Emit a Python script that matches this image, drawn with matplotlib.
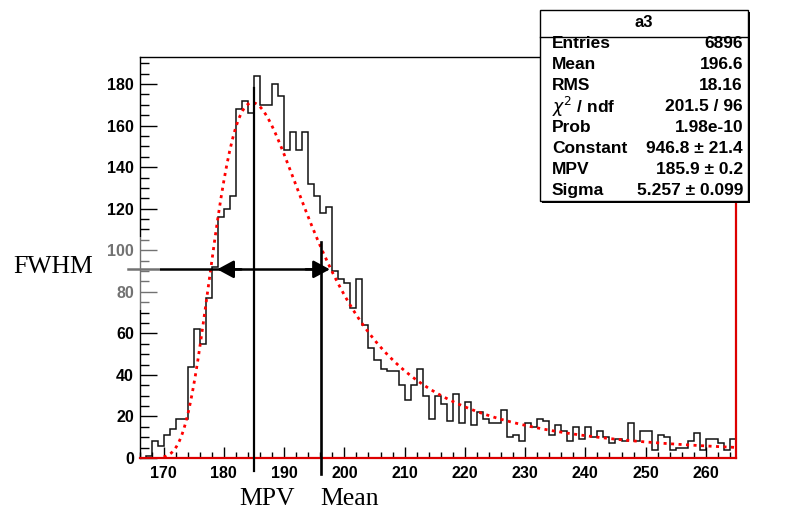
import numpy as np
import matplotlib
matplotlib.use("Agg")
import matplotlib.pyplot as plt
from matplotlib.patches import Rectangle
from matplotlib.ticker import MultipleLocator

# histogram a3: 1-unit bins from 166 to 265
first_edge = 166
counts = [0, 1, 8, 6, 11, 14, 19, 19, 44, 62,
          55, 77, 92, 116, 120, 126, 168, 172, 166, 184,
          170, 170, 180, 174, 148, 157, 148, 157, 132, 126,
          118, 121, 90, 86, 84, 72, 86, 64, 53, 47,
          43, 42, 42, 35, 28, 35, 43, 30, 19, 30,
          26, 18, 31, 17, 27, 16, 22, 19, 17, 17,
          23, 10, 11, 8, 17, 15, 19, 18, 11, 16,
          13, 8, 15, 9, 15, 10, 13, 10, 7, 9,
          8, 17, 8, 13, 13, 4, 11, 10, 4, 5,
          5, 8, 12, 4, 9, 9, 7, 4, 9]

# Landau fit parameters (from the stats box)
fit_const = 946.8
fit_mpv = 185.9
fit_sigma = 5.257
fit_range = (170, 265)

stat_labels = ["Entries", "Mean", "RMS", r"$\chi^{2}$ / ndf", "Prob", "Constant", "MPV", "Sigma"]
stat_values = ["6896", "196.6", "18.16", "201.5 / 96", "1.98e-10",
               "946.8 \u00b1 21.4", "185.9 \u00b1 0.2", "5.257 \u00b1 0.099"]

# hand drawn annotations
mpv_line_x = 185.0
mpv_line_top = 178
mean_line_x = 196.05
mean_line_top = 104
fwhm_level = 90.8
fwhm_left_tip = 178.9
fwhm_right_tip = 197.6

W, H = 791, 513


def fx(px):
    return px / W


def fy(py):
    return 1 - py / H


def landau(lam):
    # Landau density, integral form
    t = np.linspace(0.0, 60.0, 60001)
    dt = t[1] - t[0]
    tlogt = np.zeros_like(t)
    tlogt[1:] = t[1:] * np.log(t[1:])
    w = np.ones_like(t)
    w[1:-1:2] = 4
    w[2:-1:2] = 2
    w *= dt / 3
    out = []
    for l in lam:
        f = np.exp(-tlogt - l * t) * np.sin(np.pi * t)
        out.append(np.dot(w, f))
    return np.array(out) / np.pi


edges = np.arange(first_edge, first_edge + len(counts) + 1)

fig = plt.figure(figsize=(W / 100, H / 100), dpi=100)
ax = fig.add_axes([fx(139.5), fy(458), fx(736) - fx(139.5), fy(57) - fy(458)])

ax.stairs(counts, edges, color="#111111", lw=1.1)

xf = np.linspace(fit_range[0], fit_range[1], 400)
yf = fit_const * landau((xf - fit_mpv) / fit_sigma)
ax.plot(xf, yf, color="#ff0000", lw=2.0, ls=(0, (1.1, 1.6)))

ax.set_xlim(166, 265)
ax.set_ylim(0, 193)

ax.xaxis.set_major_locator(MultipleLocator(10))
ax.xaxis.set_minor_locator(MultipleLocator(2))
ax.yaxis.set_major_locator(MultipleLocator(20))
ax.yaxis.set_minor_locator(MultipleLocator(5))
ax.tick_params(axis="x", which="major", direction="in", length=8, width=1, pad=6)
ax.tick_params(axis="x", which="minor", direction="in", length=4.5, width=1)
ax.tick_params(axis="y", which="major", direction="in", length=12, width=1, pad=4)
ax.tick_params(axis="y", which="minor", direction="in", length=6.5, width=1)
for lab in ax.get_xticklabels() + ax.get_yticklabels():
    lab.set_fontfamily("Liberation Sans")
    lab.set_fontweight("bold")
    lab.set_fontsize(11.5)

ax.spines["bottom"].set_color("#dd0000")
ax.spines["bottom"].set_linewidth(1.6)
ax.spines["right"].set_color("#dd0000")
ax.spines["right"].set_linewidth(1.6)
ax.spines["left"].set_linewidth(1.0)
ax.spines["top"].set_linewidth(1.0)

# MPV / Mean markers
ax.plot([mpv_line_x, mpv_line_x], [-6.3, mpv_line_top], color="black", lw=1.6,
        clip_on=False, zorder=5)
ax.plot([mean_line_x, mean_line_x], [-7.5, mean_line_top], color="black", lw=1.9,
        clip_on=False, zorder=5)

# FWHM double arrow
ax.plot([164.1, fwhm_right_tip - 1], [fwhm_level, fwhm_level], color="black", lw=1.8,
        clip_on=False, zorder=5)
head = dict(arrowstyle="-|>,head_length=0.5,head_width=0.27", mutation_scale=20,
            color="black", lw=1.8, shrinkA=0, shrinkB=0)
ax.annotate("", xy=(fwhm_left_tip, fwhm_level), xytext=(fwhm_left_tip + 4, fwhm_level),
            arrowprops=head, zorder=6)
ax.annotate("", xy=(fwhm_right_tip, fwhm_level), xytext=(fwhm_right_tip - 4, fwhm_level),
            arrowprops=head, zorder=6)

# faded patch over the 80/100 labels
fig.patches.append(Rectangle((fx(100), fy(310)), fx(160) - fx(100), fy(237) - fy(310),
                             transform=fig.transFigure, facecolor="white", alpha=0.45,
                             edgecolor="none", zorder=3))

serif = "Liberation Serif"
fig.text(fx(13), fy(273), "FWHM", family=serif, fontsize=18.5, va="baseline", ha="left")
fig.text(fx(239), fy(505), "MPV", family=serif, fontsize=18.5, va="baseline", ha="left")
fig.text(fx(320), fy(505), "Mean", family=serif, fontsize=18.5, va="baseline", ha="left")

# stats box
bx0, by0, bx1, by1 = 540, 10, 748, 201
fig.patches.append(Rectangle((fx(bx0 + 2), fy(by1 + 2)), fx(bx1) - fx(bx0), fy(by0) - fy(by1),
                             transform=fig.transFigure, facecolor="black", edgecolor="none",
                             zorder=9))
fig.patches.append(Rectangle((fx(bx0), fy(by1)), fx(bx1) - fx(bx0), fy(by0) - fy(by1),
                             transform=fig.transFigure, facecolor="white", edgecolor="black",
                             lw=1.0, zorder=10))
fig.lines.append(plt.Line2D([fx(bx0), fx(bx1)], [fy(36.5), fy(36.5)],
                            transform=fig.transFigure, color="black", lw=1.0, zorder=11))
fig.text(fx((bx0 + bx1) / 2), fy(23), "a3", family="Liberation Sans", fontweight="bold",
         fontsize=12, ha="center", va="center", zorder=12)
row_y = 43.5
for lab, val in zip(stat_labels, stat_values):
    fig.text(fx(552), fy(row_y), lab, family="Liberation Sans", fontweight="bold",
             fontsize=12.5, ha="left", va="center", zorder=12)
    fig.text(fx(743), fy(row_y), val, family="Liberation Sans", fontweight="bold",
             fontsize=12.5, ha="right", va="center", zorder=12)
    row_y += 21.0

fig.savefig("out.png", dpi=100)
